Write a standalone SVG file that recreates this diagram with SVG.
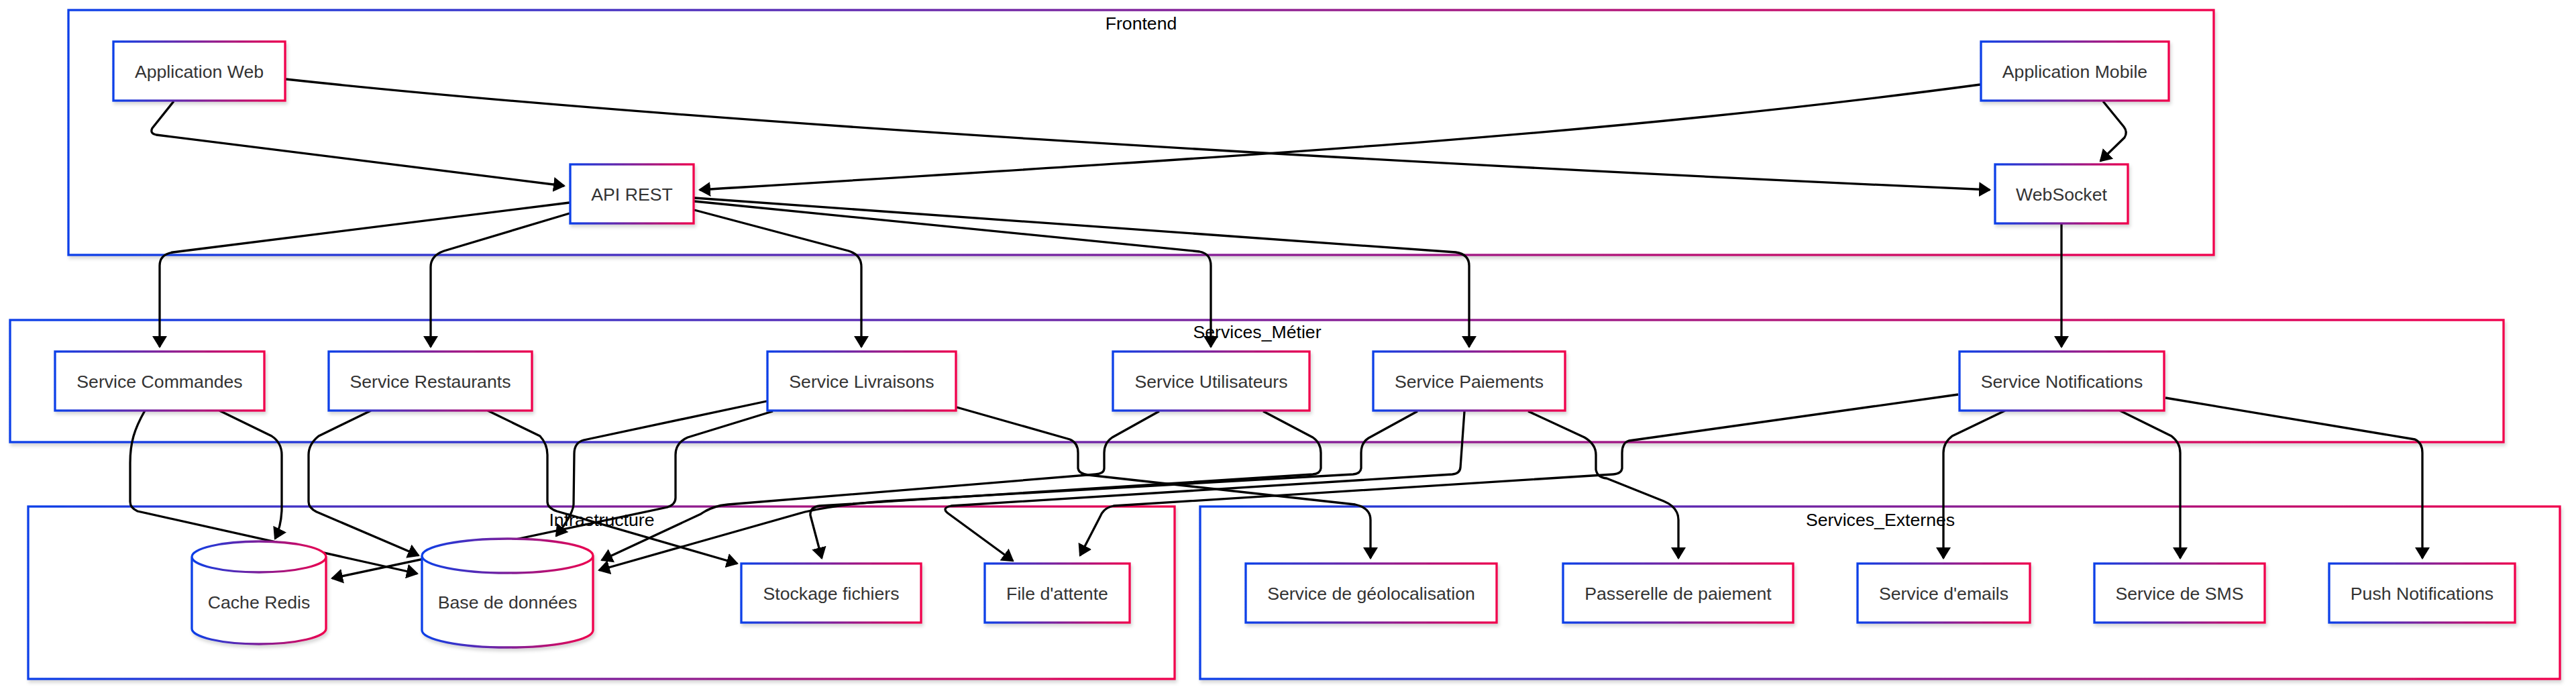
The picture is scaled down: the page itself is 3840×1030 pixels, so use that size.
<svg xmlns="http://www.w3.org/2000/svg" width="3840" height="1030" viewBox="0 0 3840 1030">
<defs>
<linearGradient id="g" x1="0" y1="0" x2="1" y2="0">
<stop offset="0" stop-color="#0a3fe8"/>
<stop offset="1" stop-color="#f0004c"/>
</linearGradient>
<filter id="sh" x="-5%" y="-5%" width="110%" height="120%">
<feDropShadow dx="2" dy="4" stdDeviation="2.5" flood-color="#000" flood-opacity="0.16"/>
</filter>
<marker id="arr" viewBox="0 0 18 22" refX="16" refY="11" markerWidth="18" markerHeight="22" markerUnits="userSpaceOnUse" orient="auto">
<path d="M0,0 L18,11 L0,22 z" fill="#000"/>
</marker>
<style>
.box{fill:#fff;stroke:url(#g);stroke-width:3.3;filter:url(#sh);}
.lbl{font-family:"Liberation Sans",Arial,sans-serif;font-size:26.67px;fill:#333;text-anchor:middle;}
.clbl{font-family:"Liberation Sans",Arial,sans-serif;font-size:26.67px;fill:#000;text-anchor:middle;}
.edge{fill:none;stroke:#000;stroke-width:3.3;stroke-linejoin:round;marker-end:url(#arr);}
</style>
</defs>
<rect width="3840" height="1030" fill="#fff"/>
<g id="clusters">
<g id="Frontend"><rect class="box" x="102" y="15" width="3198" height="365"/><text class="clbl" x="1701" y="44">Frontend</text></g>
<g id="Services_Metier"><rect class="box" x="15" y="477" width="3717" height="182"/><text class="clbl" x="1874" y="504">Services_Métier</text></g>
<g id="Infrastructure"><rect class="box" x="42" y="755" width="1709" height="257"/><text class="clbl" x="897" y="784">Infrastructure</text></g>
<g id="Services_Externes"><rect class="box" x="1789" y="755" width="2027" height="257"/><text class="clbl" x="2803" y="784">Services_Externes</text></g>
</g>
<g id="edges">
<path class="edge" d="M259,151 L227,191 Q223,199 233,201 L841,277"/>
<path class="edge" d="M426,118 C1000,180 2000,240 2966,283"/>
<path class="edge" d="M2952,126 C2400,200 1900,230 1043,283"/>
<path class="edge" d="M3135,151 L3166,189 Q3172,197 3167,205 L3131,240"/>
<path class="edge" d="M849,302 L258,376 Q238,379 238,396 L238,517"/>
<path class="edge" d="M849,318 L662,374 Q642,381 642,398 L642,517"/>
<path class="edge" d="M1035,313 L1265,374 Q1284,380 1284,398 L1284,517"/>
<path class="edge" d="M1035,300 L1788,375 Q1805,378 1805,396 L1805,517"/>
<path class="edge" d="M1035,295 L2170,376 Q2190,379 2190,396 L2190,517"/>
<path class="edge" d="M3073,334 L3073,517"/>
<path class="edge" d="M216,612 C200,640 194,660 194,690 L194,748 Q194,757 205,762 L622,855"/>
<path class="edge" d="M327,612 L405,650 Q420,660 420,678 L420,760 Q419,785 410,803"/>
<path class="edge" d="M553,612 L475,650 Q460,662 460,678 L460,748 Q460,757 472,763 L624,828"/>
<path class="edge" d="M727,612 L805,650 Q816,662 816,678 L816,748 Q816,757 830,762 L1099,840"/>
<path class="edge" d="M1143,598 L870,656 Q856,660 856,676 L855,752 Q854,767 829,799"/>
<path class="edge" d="M1152,613 L1025,652 Q1007,660 1007,678 L1007,742 Q1007,752 995,756 L495,862"/>
<path class="edge" d="M1426,607 L1595,655 Q1607,660 1607,675 L1607,698 Q1608,706 1622,708 L2020,752 Q2043,757 2043,775 L2043,832"/>
<path class="edge" d="M1728,613 L1658,652 Q1646,660 1646,675 L1646,698 Q1646,706 1633,707 L1085,752 Q1062,754 1045,766 L897,835"/>
<path class="edge" d="M1883,613 L1957,652 Q1969,660 1969,675 L1969,698 Q1968,706 1957,707 L1222,754 Q1207,756 1208,768 L1225,832"/>
<path class="edge" d="M2113,613 L2040,653 Q2029,660 2029,675 L2029,698 Q2028,706 2017,707 L1320,747 Q1250,752 1200,763 L893,850"/>
<path class="edge" d="M2183,613 L2177,697 Q2176,706 2165,707 L1418,754 Q1403,757 1413,765 L1510,836"/>
<path class="edge" d="M2278,613 L2362,652 Q2379,662 2379,678 L2379,700 Q2381,712 2395,713 L2480,747 Q2502,756 2502,775 L2502,832"/>
<path class="edge" d="M2919,588 L2428,657 Q2418,660 2418,675 L2418,698 Q2417,706 2405,707 L1660,754 Q1645,757 1640,770 L1610,828"/>
<path class="edge" d="M2989,612 L2910,650 Q2897,660 2897,675 L2897,832"/>
<path class="edge" d="M3160,612 L3237,650 Q3250,660 3250,675 L3250,832"/>
<path class="edge" d="M3228,593 L3600,655 Q3611,660 3611,675 L3611,832"/>
</g>
<g id="WebApp"><rect class="box" x="169" y="62" width="256" height="88"/><text class="lbl" x="297" y="115.5">Application Web</text></g>
<g id="MobileApp"><rect class="box" x="2953" y="62" width="280" height="88"/><text class="lbl" x="3093" y="115.5">Application Mobile</text></g>
<g id="API"><rect class="box" x="850" y="245" width="184" height="88"/><text class="lbl" x="942" y="298.5">API REST</text></g>
<g id="WS"><rect class="box" x="2974" y="245" width="198" height="88"/><text class="lbl" x="3073" y="298.5">WebSocket</text></g>
<g id="Orders"><rect class="box" x="82" y="524" width="312" height="88"/><text class="lbl" x="238" y="577.5">Service Commandes</text></g>
<g id="Restaurants"><rect class="box" x="490" y="524" width="303" height="88"/><text class="lbl" x="641.5" y="577.5">Service Restaurants</text></g>
<g id="Delivery"><rect class="box" x="1144" y="524" width="281" height="88"/><text class="lbl" x="1284.5" y="577.5">Service Livraisons</text></g>
<g id="Users"><rect class="box" x="1659" y="524" width="293" height="88"/><text class="lbl" x="1805.5" y="577.5">Service Utilisateurs</text></g>
<g id="Payments"><rect class="box" x="2047" y="524" width="286" height="88"/><text class="lbl" x="2190" y="577.5">Service Paiements</text></g>
<g id="Notifications"><rect class="box" x="2921" y="524" width="305" height="88"/><text class="lbl" x="3073.5" y="577.5">Service Notifications</text></g>
<g id="Cache"><path class="box" d="M286,830 a100,23 0 0,0 200,0 a100,23 0 0,0 -200,0 l0,107 a100,23 0 0,0 200,0 l0,-107"/><text class="lbl" x="386" y="907">Cache Redis</text></g>
<g id="DB"><path class="box" d="M629,828.5 a127.5,25.5 0 0,0 255,0 a127.5,25.5 0 0,0 -255,0 l0,111 a127.5,25.5 0 0,0 255,0 l0,-111"/><text class="lbl" x="756.5" y="907">Base de données</text></g>
<g id="Storage"><rect class="box" x="1105" y="840" width="268" height="88"/><text class="lbl" x="1239" y="893.5">Stockage fichiers</text></g>
<g id="Queue"><rect class="box" x="1468" y="840" width="216" height="88"/><text class="lbl" x="1576" y="893.5">File d'attente</text></g>
<g id="Maps"><rect class="box" x="1857" y="840" width="374" height="88"/><text class="lbl" x="2044" y="893.5">Service de géolocalisation</text></g>
<g id="PaymentGW"><rect class="box" x="2330" y="840" width="343" height="88"/><text class="lbl" x="2501.5" y="893.5">Passerelle de paiement</text></g>
<g id="Email"><rect class="box" x="2769" y="840" width="257" height="88"/><text class="lbl" x="2897.5" y="893.5">Service d'emails</text></g>
<g id="SMS"><rect class="box" x="3122" y="840" width="254" height="88"/><text class="lbl" x="3249" y="893.5">Service de SMS</text></g>
<g id="Push"><rect class="box" x="3472" y="840" width="277" height="88"/><text class="lbl" x="3610.5" y="893.5">Push Notifications</text></g>
</svg>
